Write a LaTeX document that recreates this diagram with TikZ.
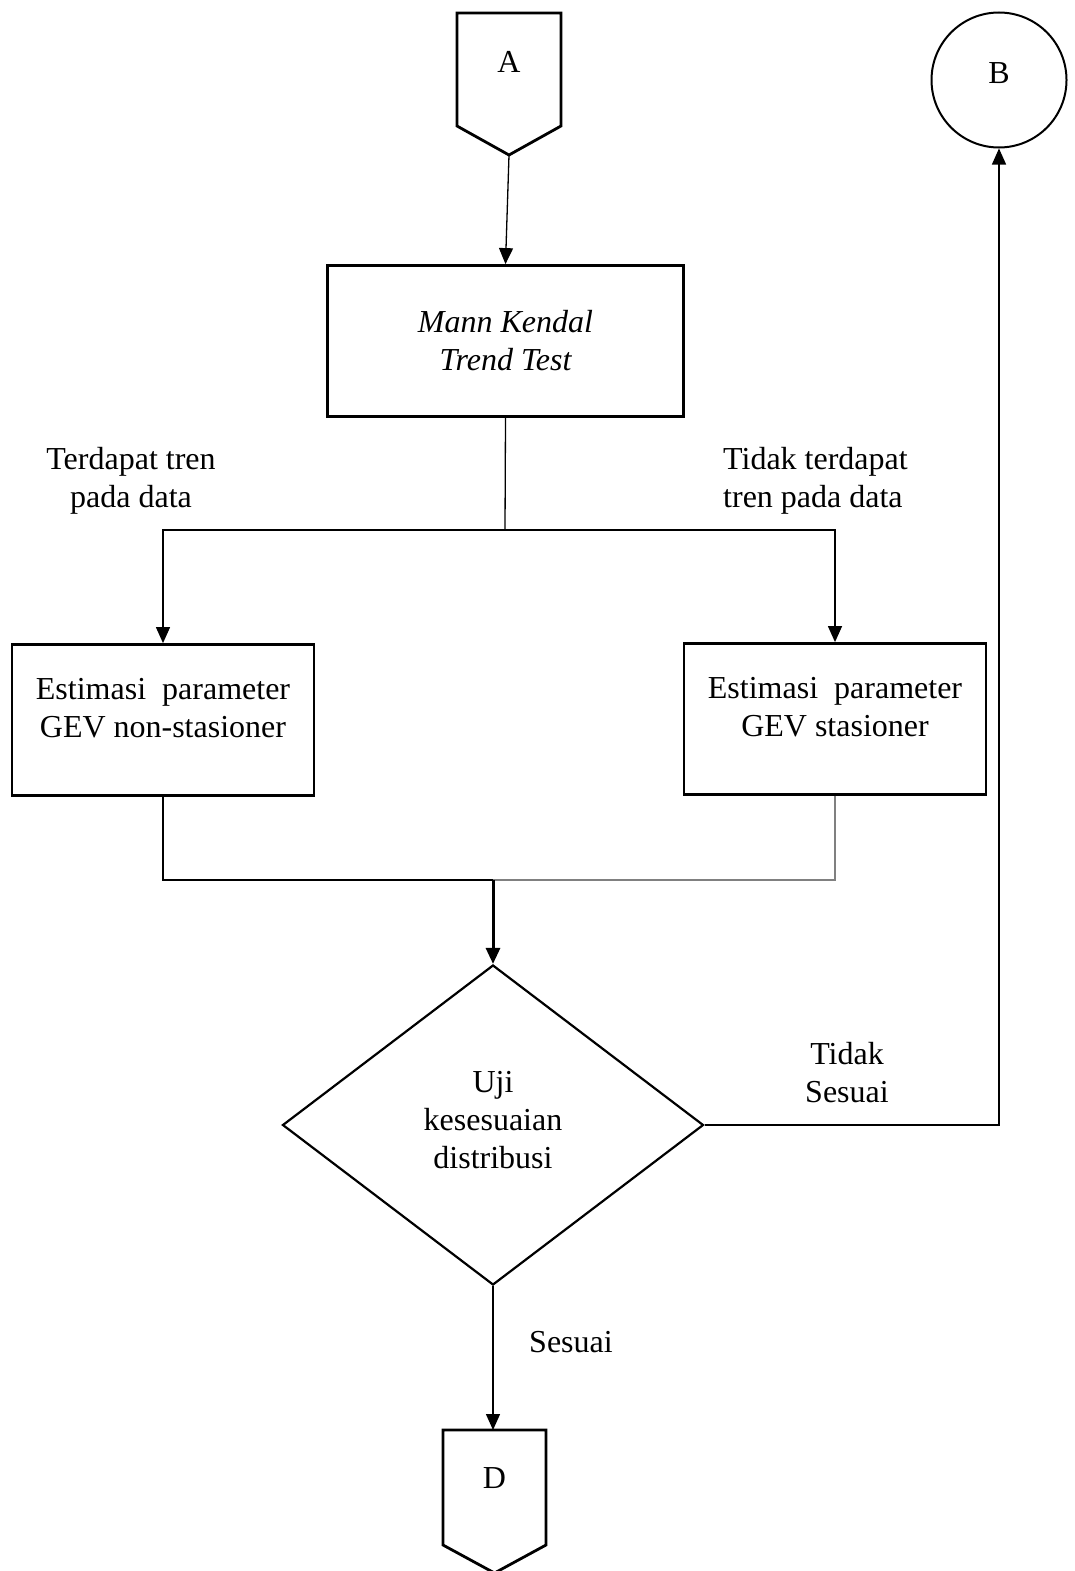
\documentclass[tikz,border=0pt]{standalone}
\usepackage{fontspec}
\setmainfont{Liberation Serif}
\usetikzlibrary{shapes,shapes.geometric,arrows.meta,positioning}

\begin{document}
\begin{tikzpicture}[
    x=1pt, y=-1pt,
    font=\fontsize{32}{38}\selectfont,
    block/.style={rectangle, draw, line width=2.8pt, minimum width=302pt, minimum height=151pt, align=center},
    decision/.style={diamond, draw, line width=2.2pt, minimum width=421pt, minimum height=320pt, align=center, inner sep=0pt},
    connector/.style={circle, draw, line width=2pt, minimum size=135pt},
    offpage/.style={line width=2.8pt, line join=miter},
    tag/.style={align=center, inner sep=0pt},
    arrow/.style={-{Triangle[length=16pt,width=14pt]}, line width=1.3pt}
]
\useasboundingbox (0,0) rectangle (1074,1571);

% Off-page connectors and circle connector
\draw[offpage] (457,13) -- (561,13) -- (561,126) -- (509,155) -- (457,126) -- cycle;
\node at (509,62) (A) {A};
\coordinate (Atip) at (509,155);
\node[connector, text depth=14pt] at (999,80) (B) {B};

% Trend test
\node[block, minimum width=356pt] at (505.5,341) (mann) {\itshape Mann Kendal\\\itshape Trend Test};
\coordinate (split) at (505,530);

% Parameter estimation
\node[block, text depth=25pt] at (163,720) (nonstat) {Estimasi~ parameter\\GEV non-stasioner};
\node[block, text depth=25pt] at (835,719) (stat) {Estimasi~ parameter\\GEV stasioner};
\coordinate (merge) at (493,880);

% Goodness of fit
\node[decision, text depth=10pt] at (493,1125) (uji) {Uji\\kesesuaian\\distribusi};

% Off-page connector D
\draw[offpage] (443,1430) -- (546,1430) -- (546,1545) -- (494.5,1573) -- (443,1545) -- cycle;
\node at (494.5,1478) (D) {D};
\coordinate (Dtop) at (493,1430);

% Labels
\node[tag] at (131,481) (tren) {Terdapat tren\\pada data};
\node[tag, align=left, anchor=west] at (723,481) (notren) {Tidak terdapat\\tren pada data};
\node[tag] at (847,1073) (tidak) {Tidak\\Sesuai};
\node[tag] at (571,1342) (sesuai) {Sesuai};

% Arrows
\draw[arrow] (Atip) -- (mann.north);
\draw[line width=1.3pt] (mann.south) -- (split);
\draw[arrow] (split) -| (nonstat.north);
\draw[arrow] (split) -| (stat.north);
\draw[line width=2.5pt] (nonstat.south) |- (merge);
\draw[gray, line width=1.5pt] (stat.south) |- (merge);
\draw[arrow, line width=3pt] (merge) -- (uji.north);
\draw[arrow] (uji.east) -| (B.south);
\draw[arrow] (uji.south) -- (Dtop);

\end{tikzpicture}
\end{document}
